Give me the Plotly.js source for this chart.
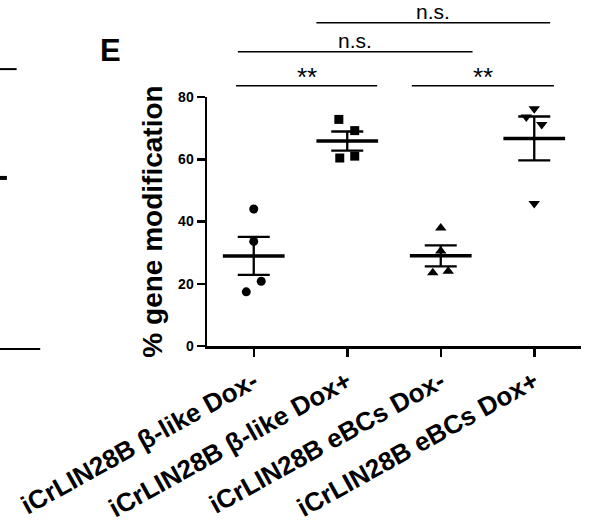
<!DOCTYPE html>
<html>
<head>
<meta charset="utf-8">
<script src="https://cdn.plot.ly/plotly-3.0.1.min.js"></script>
<style>html,body{margin:0;padding:0;background:#fff}#chart{width:589px;height:524px}</style>
</head>
<body>
<div id="chart"></div>
<script>
// ---- data ----
const categories = ["iCrLIN28B β-like Dox-", "iCrLIN28B β-like Dox+", "iCrLIN28B eBCs Dox-", "iCrLIN28B eBCs Dox+"];
const betaDoxMinus = [44.0, 33.6, 20.8, 17.4];
const betaDoxPlus  = [72.8, 69.2, 60.4, 61.0];
const eBCsDoxMinus = [37.9, 30.5, 23.5, 24.0];
const eBCsDoxPlus  = [76.2, 73.6, 71.2, 45.8];
const yTickValues = [0, 20, 40, 60, 80];
const comparisonLabels = ["**", "**", "n.s.", "n.s."];

// ---- layout / style (not data) ----
const groups = [betaDoxMinus, betaDoxPlus, eBCsDoxMinus, eBCsDoxPlus];
const symbols = ["circle", "square", "triangle-up", "triangle-down"];
const markerSizes = [9, 9, 10, 10];
const jitter = [[0, 0, 0.08, -0.08], [-0.09, 0.08, -0.08, 0.08], [0, 0, -0.085, 0.08], [0, -0.085, 0.08, 0]];
const brackets = [ // x0, x1 (axis units), line y (paper), label y (paper), label size
  {x0: -0.19, x1: 1.32, y: 1.045, ty: 1.082, fs: 26},
  {x0: 1.69, x1: 3.21, y: 1.045, ty: 1.082, fs: 26},
  {x0: -0.17, x1: 2.34, y: 1.182, ty: 1.228, fs: 21},
  {x0: 0.67, x1: 3.17, y: 1.298, ty: 1.344, fs: 21}
];
const FONT = "Liberation Sans, Arial, Helvetica, sans-serif";

function mean(a){ return a.reduce((s,v)=>s+v,0)/a.length; }
function sem(a){ const m=mean(a); const v=a.reduce((s,x)=>s+(x-m)*(x-m),0)/(a.length-1); return Math.sqrt(v)/Math.sqrt(a.length); }

const traces = [];
groups.forEach((vals, i) => {
  traces.push({
    x: vals.map((v, k) => i + jitter[i][k]), y: vals, type: "scatter", mode: "markers",
    marker: {symbol: symbols[i], size: markerSizes[i], color: "#000"}, hoverinfo: "y", showlegend: false, cliponaxis: false
  });
  const m = mean(vals), s = sem(vals);
  traces.push({
    x: [i - 0.33, i + 0.33], y: [m, m], type: "scatter", mode: "lines",
    line: {color: "#000", width: 3.5}, showlegend: false, hoverinfo: "skip"
  });
  traces.push({
    x: [i], y: [m], type: "scatter", mode: "markers",
    marker: {size: 1, color: "rgba(0,0,0,0)"},
    error_y: {type: "data", array: [s], visible: true, color: "#000", thickness: 2.3, width: 16},
    showlegend: false, hoverinfo: "skip"
  });
});

const shapes = brackets.map(b => ({type: "line", xref: "x", yref: "paper", x0: b.x0, x1: b.x1, y0: b.y, y1: b.y, line: {color: "#000", width: 1.5}}));
// fragments of the neighbouring panel at the left edge
shapes.push({type: "line", xref: "paper", yref: "paper", x0: -0.56, x1: -0.509, y0: 1.112, y1: 1.112, line: {color: "#000", width: 2}});
shapes.push({type: "line", xref: "paper", yref: "paper", x0: -0.56, x1: -0.535, y0: 0.675, y1: 0.675, line: {color: "#000", width: 4}});
shapes.push({type: "line", xref: "paper", yref: "paper", x0: -0.56, x1: -0.446, y0: -0.012, y1: -0.012, line: {color: "#000", width: 2}});

const annotations = brackets.map((b, i) => ({
  xref: "x", yref: "paper", x: (b.x0 + b.x1) / 2, y: b.ty, text: comparisonLabels[i],
  showarrow: false, xanchor: "center", yanchor: "middle", font: {family: FONT, size: b.fs, color: "#000"}
}));
annotations.push({xref: "paper", yref: "paper", x: -0.259, y: 1.187, text: "<b>E</b>", showarrow: false,
  xanchor: "center", yanchor: "middle", font: {family: FONT, size: 31, color: "#000"}});

const layout = {
  width: 589, height: 524,
  margin: {l: 207, r: 8, t: 97, b: 178},
  paper_bgcolor: "#fff", plot_bgcolor: "#fff",
  font: {family: FONT, color: "#000"},
  xaxis: {
    range: [-0.5, 3.5], tickmode: "array", tickvals: [0, 1, 2, 3], ticktext: categories,
    tickangle: -29, showline: true, linecolor: "#000", linewidth: 2.5, ticks: "outside", ticklen: 8,
    tickwidth: 2.5, tickcolor: "#000", showgrid: false, zeroline: false, automargin: false,
    tickfont: {family: FONT, size: 26, color: "#000", weight: "bold"}
  },
  yaxis: {
    range: [0, 80], tickmode: "array", tickvals: yTickValues, showline: true, linecolor: "#000", linewidth: 2.5,
    ticks: "outside", ticklen: 8, tickwidth: 2.5, tickcolor: "#000", showgrid: false, zeroline: false, automargin: false,
    tickfont: {family: FONT, size: 14, color: "#000", weight: "bold"},
    title: {text: "% gene modification", font: {family: FONT, size: 28, color: "#000", weight: "bold"}, standoff: 8}
  },
  shapes: shapes, annotations: annotations
};

Plotly.newPlot("chart", traces, layout, {displayModeBar: false, staticPlot: true});
</script>
</body>
</html>
